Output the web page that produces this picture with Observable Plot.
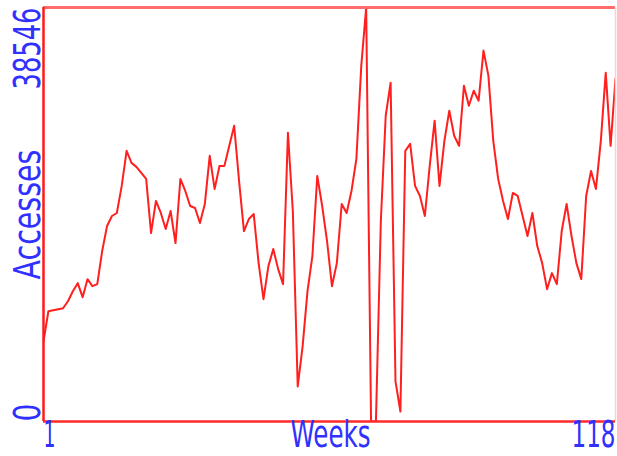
<!DOCTYPE html>
<html><head><meta charset="utf-8">
<script src="https://cdn.jsdelivr.net/npm/d3@7"></script>
<script src="https://cdn.jsdelivr.net/npm/@observablehq/plot@0.6"></script>
<style>body{margin:0;background:#fff;overflow:hidden;}</style>
</head><body><div id="chart"></div>
<script>
const weeks = d3.range(1, 119);
const accesses = [
  7467, 10267, 10360, 10453, 10547, 11200, 12133, 12880, 11573, 13253,
  12600, 12787, 15867, 18200, 19133, 19413, 21933, 25200, 24080, 23707,
  23147, 22587, 17547, 20533, 19413, 17920, 19600, 16613, 22587, 21467,
  20067, 19880, 18480, 20253, 24733, 21653, 23800, 23800, 25667, 27533,
  22400, 17733, 18853, 19320, 14747, 11387, 14467, 16053, 14187, 12787,
  26880, 19600, 3267, 7000, 12133, 15400, 22867, 20067, 16800, 12600,
  14747, 20253, 19413, 21467, 24453, 33133, 38546, 0, 0, 18667,
  28467, 31547, 3733, 933, 25200, 25853, 21933, 21000, 19133, 23800,
  28000, 21933, 26133, 28933, 26600, 25667, 31267, 29400, 30800, 29867,
  34533, 32200, 26133, 22587, 20533, 18853, 21280, 21000, 19133, 17267,
  19413, 16333, 14747, 12320, 13813, 12787, 17733, 20253, 17267, 14747,
  13253, 21000, 23333, 21653, 26133, 32480, 25667, 31920
];
const yTicks = [0, 38546];
const xTicks = [1, 118];
const xLabel = "Weeks";
const yLabel = "Accesses";

const data = weeks.map((w, i) => ({week: w, value: accesses[i]}));
const blue = "#3030ff";
const fs = 38;
const textProps = {fill: blue, fontSize: fs, fontFamily: "DejaVu Sans"};

const chart = Plot.plot({
  width: 617, height: 456,
  marginLeft: 43, marginRight: 2, marginTop: 7, marginBottom: 35,
  x: {domain: [1, 118], axis: null},
  y: {domain: [0, 38546], axis: null},
  style: {background: "#fff", fontFamily: "DejaVu Sans"},
  marks: [
    Plot.lineY(data, {x: "week", y: "value", stroke: "#ff1f1f", strokeWidth: 2, clip: true}),
    Plot.ruleY([yTicks[1]], {stroke: "#ff6a6a", strokeWidth: 3}),
    Plot.ruleX([xTicks[1]], {stroke: "#ffd0d0", strokeWidth: 1.5}),
    Plot.ruleY([yTicks[0]], {stroke: "#ff2a2a", strokeWidth: 2.5}),
    Plot.ruleX([xTicks[0]], {stroke: "#ff1a1a", strokeWidth: 2.5}),
    Plot.text([yTicks[0]], {y: d => d, text: d => String(d), frameAnchor: "left", dx: -16, rotate: -90, textAnchor: "start", ...textProps}),
    Plot.text([yTicks[1]], {y: d => d, text: d => String(d), frameAnchor: "left", dx: -16, dy: 82, rotate: -90, textAnchor: "start", ...textProps}),
    Plot.text([yLabel], {text: d => d, frameAnchor: "left", dx: -16, dy: 65, rotate: -90, textAnchor: "start", ...textProps}),
    Plot.text([xTicks[0]], {x: d => d, text: d => String(d), frameAnchor: "bottom", dy: 25, textAnchor: "start", ...textProps}),
    Plot.text([xTicks[1]], {x: d => d, text: d => String(d), frameAnchor: "bottom", dx: -44, dy: 25, textAnchor: "start", ...textProps}),
    Plot.text([xLabel], {text: d => d, frameAnchor: "bottom", dy: 25, dx: -39, textAnchor: "start", ...textProps})
  ]
});
document.getElementById("chart").appendChild(chart);

// compress glyphs along the text direction (the reference uses a narrow face)
const textLengths = {"0": 18, "38546": 82, "Accesses": 130, "1": 12, "118": 44, "Weeks": 80};
d3.select(chart).selectAll("text").each(function() {
  const t = this.textContent;
  if (textLengths[t] === undefined) return;
  const T = this.getAttribute("transform");
  const natural = this.getComputedTextLength();
  const bx = this.getBBox().x;
  const k = natural ? textLengths[t] / natural : NaN;
  const ok = T && /^[\w\s(),.\-]*$/.test(T) && isFinite(bx) && isFinite(k);
  if (ok) {
    this.setAttribute("transform", `${T} translate(${bx},0) scale(${k},1) translate(${-bx},0)`);
  } else {
    this.setAttribute("textLength", textLengths[t]);
    this.setAttribute("lengthAdjust", "spacingAndGlyphs");
  }
});
</script>
</body></html>
